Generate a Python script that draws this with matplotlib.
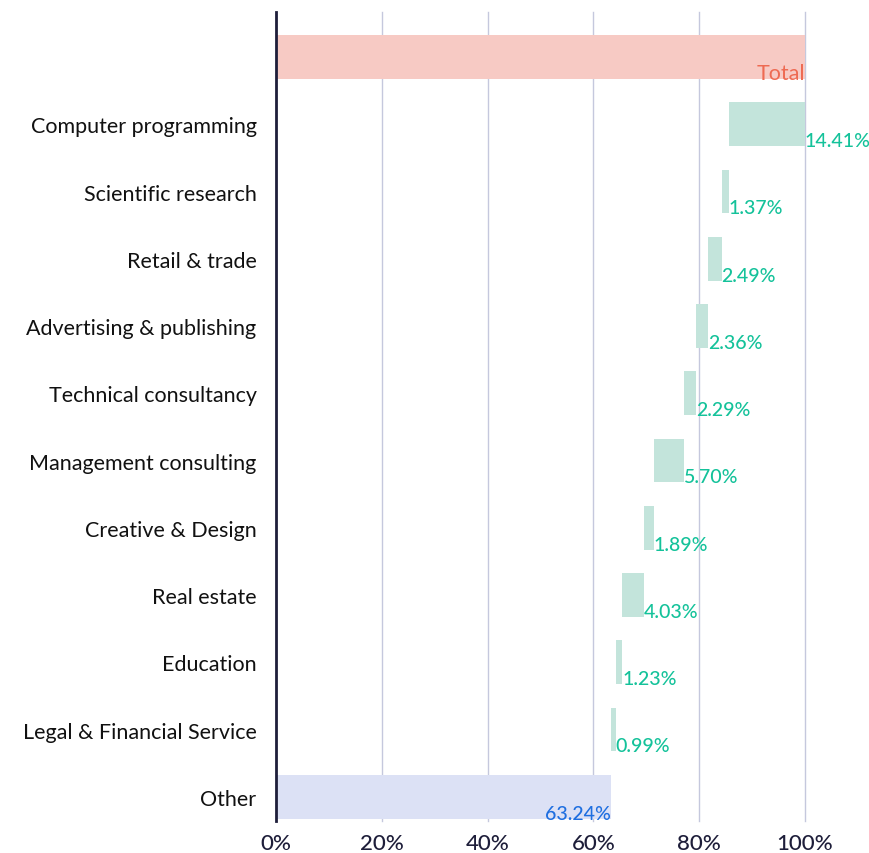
import matplotlib
matplotlib.use("Agg")
import matplotlib.pyplot as plt
from matplotlib.ticker import FuncFormatter

# Waterfall of shares (percent), top to bottom
categories = ["", "Computer programming", "Scientific research", "Retail & trade",
              "Advertising & publishing", "Technical consultancy", "Management consulting",
              "Creative & Design", "Real estate", "Education", "Legal & Financial Service",
              "Other"]
total = 100.0
steps = [14.41, 1.37, 2.49, 2.36, 2.29, 5.70, 1.89, 4.03, 1.23, 0.99]
other = 63.24
ticks = [0, 20, 40, 60, 80, 100]

pink, pink_txt = "#F7CAC4", "#EE6A52"
green, green_txt = "#C3E4DB", "#14C29A"
blue, blue_txt = "#DCE1F5", "#1F6FE0"
navy = "#1E1E3A"

plt.rcParams["font.family"] = ["Lato", "DejaVu Sans"]

fig = plt.figure(figsize=(8.7, 8.54), dpi=100)
ax = fig.add_axes([276 / 870, 1 - 822 / 854, (805 - 276) / 870, (822 - 13) / 854])

h = 0.65
# total bar
ax.barh(0, total, height=h, color=pink, zorder=2)
ax.text(total, 0 + h / 2, "Total", ha="right", va="baseline", color=pink_txt, fontsize=15.5, zorder=3)

# decreasing steps
right = total
for i, v in enumerate(steps, start=1):
    left = right - v
    ax.barh(i, v, left=left, height=h, color=green, zorder=2)
    ax.text(right, i + h / 2, f"{v:.2f}%", ha="left", va="baseline", color=green_txt,
            fontsize=14, fontweight="medium", zorder=3, clip_on=False)
    right = left

n = len(categories) - 1
ax.barh(n, other, height=h, color=blue, zorder=2)
ax.text(other, n + h / 2, f"{other:.2f}%", ha="right", va="baseline", color=blue_txt,
        fontsize=14, fontweight="medium", zorder=3)

ax.set_xlim(0, 100)
ax.set_ylim(n + 0.36, -0.67)
ax.set_xticks(ticks)
ax.xaxis.set_major_formatter(FuncFormatter(lambda x, p: f"{x:.0f}%"))
ax.set_yticks(range(len(categories)))
ax.set_yticklabels(categories)
ax.tick_params(axis="y", length=0, pad=14, labelsize=15.5, labelcolor="#111111")
ax.tick_params(axis="x", length=0, pad=9, labelsize=16, labelcolor=navy)
for lab in ax.get_xticklabels():
    lab.set_fontweight("medium")

for x in ticks[1:]:
    ax.axvline(x, color="#C5C8DD", lw=1, zorder=1, clip_on=False)

for s in ["top", "right", "bottom"]:
    ax.spines[s].set_visible(False)
ax.spines["left"].set_color(navy)
ax.spines["left"].set_linewidth(2)
ax.spines["left"].set_zorder(4)

fig.savefig("out.png", dpi=100)
